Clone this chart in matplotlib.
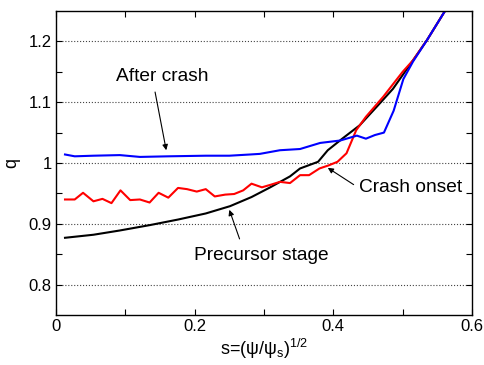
import matplotlib
matplotlib.use("Agg")
import matplotlib.pyplot as plt
from matplotlib.ticker import FixedLocator

plt.rcParams['font.family'] = ['Liberation Sans', 'DejaVu Sans']

# Precursor stage (black)
s_black = [0.013, 0.054, 0.092, 0.136, 0.176, 0.216, 0.251, 0.282, 0.309, 0.3375, 0.352,
           0.378, 0.392, 0.414, 0.438, 0.463, 0.486, 0.515, 0.535, 0.561]
q_black = [0.877, 0.882, 0.889, 0.898, 0.907, 0.917, 0.929, 0.944, 0.960, 0.978, 0.991,
           1.002, 1.021, 1.041, 1.062, 1.093, 1.122, 1.169, 1.202, 1.25]

# Crash onset (red)
s_red = [0.013, 0.027, 0.039, 0.054, 0.067, 0.080, 0.093, 0.107, 0.121, 0.135, 0.148,
         0.162, 0.176, 0.189, 0.203, 0.216, 0.229, 0.244, 0.257, 0.270, 0.282, 0.297,
         0.309, 0.323, 0.3375, 0.352, 0.365, 0.380, 0.393, 0.406, 0.419, 0.433, 0.447,
         0.472, 0.500, 0.515, 0.535, 0.561]
q_red = [0.940, 0.940, 0.951, 0.937, 0.941, 0.934, 0.955, 0.939, 0.940, 0.935, 0.951,
         0.943, 0.959, 0.957, 0.953, 0.957, 0.945, 0.948, 0.949, 0.955, 0.966, 0.960,
         0.964, 0.969, 0.967, 0.980, 0.980, 0.991, 0.996, 1.002, 1.016, 1.054, 1.076,
         1.109, 1.150, 1.169, 1.202, 1.25]

# After crash (blue)
s_blue = [0.013, 0.027, 0.054, 0.092, 0.121, 0.162, 0.216, 0.250, 0.280, 0.294, 0.323,
          0.352, 0.381, 0.410, 0.434, 0.447, 0.460, 0.473, 0.487, 0.501, 0.515, 0.535, 0.561]
q_blue = [1.014, 1.011, 1.012, 1.013, 1.010, 1.011, 1.012, 1.012, 1.014, 1.015, 1.021,
          1.023, 1.033, 1.037, 1.045, 1.040, 1.046, 1.050, 1.086, 1.138, 1.167, 1.202, 1.25]

y_ticks = [0.8, 0.9, 1.0, 1.1, 1.2]
y_labels = ["0.8", "0.9", "1", "1.1", "1.2"]
x_ticks = [0, 0.2, 0.4, 0.6]
x_labels = ["0", "0.2", "0.4", "0.6"]

fig = plt.figure(figsize=(4.85, 3.65), dpi=100)
ax = fig.add_axes([56/485, 1-315/365, 416/485, 304/365])

ax.plot(s_black, q_black, color='black', lw=1.5)
ax.plot(s_red, q_red, color='red', lw=1.5)
ax.plot(s_blue, q_blue, color='blue', lw=1.5)

ax.set_xlim(0, 0.6)
ax.set_ylim(0.75, 1.25)
ax.set_xticks(x_ticks)
ax.set_xticklabels(x_labels)
ax.set_yticks(y_ticks)
ax.set_yticklabels(y_labels)
ax.xaxis.set_minor_locator(FixedLocator([0.1, 0.3, 0.5]))
ax.yaxis.set_minor_locator(FixedLocator([0.85, 0.95, 1.05, 1.15]))
ax.tick_params(which='both', direction='in', top=True, right=True, labelsize=12,
               length=4, width=0.8, pad=3)
ax.grid(axis='y', which='major', linestyle=':', color='#444444', lw=0.8)
for sp in ax.spines.values():
    sp.set_linewidth(1.0)

ax.set_xlabel('s=(ψ/ψ$_\\mathregular{s}$)$^\\mathregular{1/2}$', fontsize=13, labelpad=2)
ax.set_ylabel('q', fontsize=13, labelpad=6)

fs = 13.8
ax.annotate('After crash', xy=(0.159, 1.021), xytext=(0.153, 1.142), fontsize=fs,
            ha='center', va='center',
            arrowprops=dict(arrowstyle='-|>', color='black', lw=0.8, mutation_scale=8,
                            shrinkA=3, shrinkB=0, relpos=(0.41, 0.0)))
ax.annotate('Precursor stage', xy=(0.25, 0.923), xytext=(0.296, 0.848), fontsize=fs,
            ha='center', va='center',
            arrowprops=dict(arrowstyle='-|>', color='black', lw=0.8, mutation_scale=8,
                            shrinkA=4, shrinkB=0, relpos=(0.36, 1.0)))
ax.annotate('Crash onset', xy=(0.392, 0.992), xytext=(0.511, 0.959), fontsize=fs,
            ha='center', va='center',
            arrowprops=dict(arrowstyle='-|>', color='black', lw=0.8, mutation_scale=8,
                            shrinkA=2, shrinkB=0, relpos=(0.0, 0.5)))

fig.savefig('out.png', dpi=100)
